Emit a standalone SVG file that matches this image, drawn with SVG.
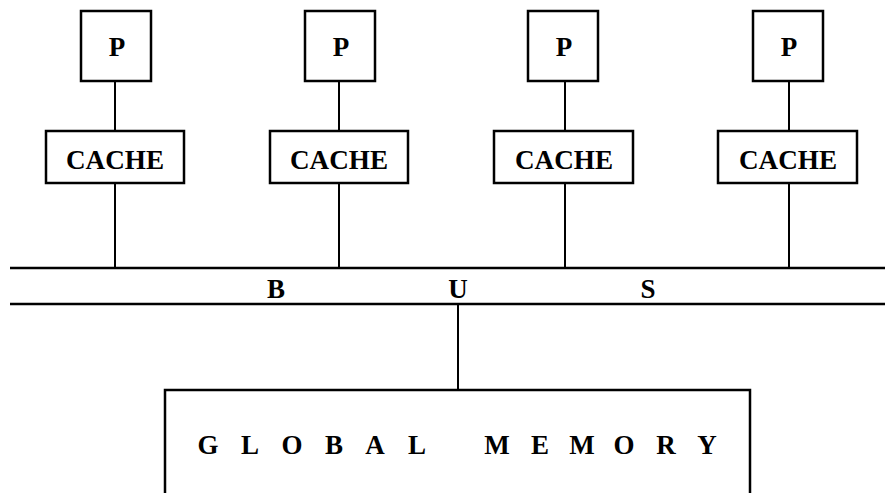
<svg xmlns="http://www.w3.org/2000/svg" width="885" height="493" viewBox="0 0 885 493">
<style>
.box{fill:#fff;stroke:#000;stroke-width:2.5}
.ln{stroke:#000;stroke-width:2;fill:none}
.bus{stroke:#000;stroke-width:2.5;fill:none}
text{font-family:"Liberation Serif","Times New Roman",serif;font-weight:bold;fill:#000;text-anchor:middle}
.p{font-size:27px}
.c{font-size:27px}
.b{font-size:27px}
.g{font-size:27px}
</style>
<rect width="885" height="493" fill="#fff"/>
<g id="connectors">
<line class="ln" x1="115" y1="81" x2="115" y2="131"/>
<line class="ln" x1="339" y1="81" x2="339" y2="131"/>
<line class="ln" x1="565" y1="81" x2="565" y2="131"/>
<line class="ln" x1="789" y1="81" x2="789" y2="131"/>
<line class="ln" x1="115" y1="183" x2="115" y2="268"/>
<line class="ln" x1="339" y1="183" x2="339" y2="268"/>
<line class="ln" x1="565" y1="183" x2="565" y2="268"/>
<line class="ln" x1="789" y1="183" x2="789" y2="268"/>
<line class="ln" x1="458" y1="304" x2="458" y2="390"/>
</g>
<g id="bus">
<line class="bus" x1="10" y1="268" x2="885" y2="268"/>
<line class="bus" x1="10" y1="304" x2="885" y2="304"/>
<text class="b" y="298"><tspan x="276">B</tspan><tspan x="458">U</tspan><tspan x="648">S</tspan></text>
</g>
<g id="p1"><rect class="box" x="81" y="11" width="70" height="70"/><text class="p" x="117" y="56">P</text></g>
<g id="p2"><rect class="box" x="305" y="11" width="70" height="70"/><text class="p" x="341" y="56">P</text></g>
<g id="p3"><rect class="box" x="528" y="11" width="70" height="70"/><text class="p" x="564" y="56">P</text></g>
<g id="p4"><rect class="box" x="753" y="11" width="70" height="70"/><text class="p" x="789" y="56">P</text></g>
<g id="c1"><rect class="box" x="46" y="131" width="138" height="52"/><text class="c" x="115" y="169" textLength="98" lengthAdjust="spacingAndGlyphs">CACHE</text></g>
<g id="c2"><rect class="box" x="270" y="131" width="138" height="52"/><text class="c" x="339" y="169" textLength="98" lengthAdjust="spacingAndGlyphs">CACHE</text></g>
<g id="c3"><rect class="box" x="494" y="131" width="139" height="52"/><text class="c" x="564" y="169" textLength="98" lengthAdjust="spacingAndGlyphs">CACHE</text></g>
<g id="c4"><rect class="box" x="718" y="131" width="139" height="52"/><text class="c" x="788" y="169" textLength="98" lengthAdjust="spacingAndGlyphs">CACHE</text></g>
<g id="memory"><rect class="box" x="165" y="390" width="585" height="120"/><text class="g" y="454"><tspan x="208">G</tspan><tspan x="250">L</tspan><tspan x="292">O</tspan><tspan x="334">B</tspan><tspan x="375">A</tspan><tspan x="417">L</tspan><tspan x="497">M</tspan><tspan x="540">E</tspan><tspan x="582">M</tspan><tspan x="624">O</tspan><tspan x="666">R</tspan><tspan x="707">Y</tspan></text></g>
</svg>
